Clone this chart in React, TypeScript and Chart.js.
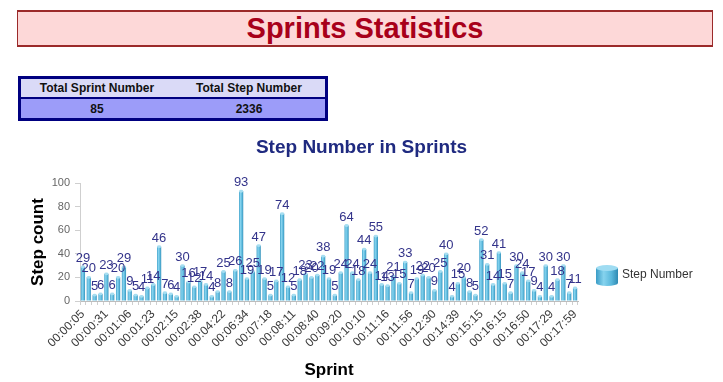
import React, { useEffect, useRef } from 'react';
import { Chart, registerables } from 'chart.js';

Chart.register(...registerables);

const FONT = '"Liberation Sans", Arial, Helvetica, sans-serif';

// Sprint start times shown on the axis (every 4th sprint)
const tickLabels = [
  '00:00:05', '00:00:31', '00:01:06', '00:01:23', '00:02:15', '00:02:38',
  '00:04:22', '00:06:34', '00:07:18', '00:08:11', '00:08:40', '00:09:20',
  '00:10:10', '00:11:16', '00:11:56', '00:12:30', '00:14:39', '00:15:15',
  '00:16:15', '00:16:50', '00:17:29', '00:17:59',
];

// Steps per sprint (85 sprints)
const stepCounts = [
  29, 20, 5, 6, 23, 6, 20, 29, 9, 5, 4, 11, 14, 46, 7, 6, 4, 30,
  16, 12, 17, 14, 4, 8, 25, 8, 26, 93,
  19, 25, 47, 19, 5, 17, 74,
  12, 5, 18, 23, 20, 22, 38, 19, 5, 24, 64,
  24, 18, 44, 24, 55, 14, 13, 21, 15, 33, 7,
  19, 22, 20, 9, 25, 40, 4, 15, 20, 8, 5, 52, 31, 14, 41, 15, 7,
  30, 24, 17, 9, 4, 30, 4, 18, 30, 7, 11,
];

const summaryHeaders = ['Total Sprint Number', 'Total Step Number'];
const summaryValues = ['85', '2336'];

const seriesName = 'Step Number';

const sprintLabels = stepCounts.map((_, i) => (i % 4 === 0 ? tickLabels[i / 4] ?? '' : ''));

const valueLabelsPlugin = {
  id: 'valueLabels',
  afterDatasetsDraw(chart: any) {
    const ctx = chart.ctx;
    const meta = chart.getDatasetMeta(0);
    const data = chart.data.datasets[0].data;
    ctx.save();
    meta.data.forEach((bar: any) => {
      const w = bar.width / 2;
      ctx.beginPath();
      ctx.ellipse(bar.x, bar.y, w, 1.4, 0, 0, Math.PI * 2);
      ctx.fillStyle = '#a6def1';
      ctx.fill();
    });
    ctx.font = `13px ${FONT}`;
    ctx.fillStyle = '#33338a';
    ctx.textAlign = 'center';
    ctx.textBaseline = 'bottom';
    meta.data.forEach((bar: any, i: number) => {
      ctx.fillText(String(data[i]), bar.x, bar.y - 2);
    });
    ctx.restore();
  },
};

const legendPlugin = {
  id: 'cylLegend',
  afterDraw(chart: any) {
    const ctx = chart.ctx;
    const area = chart.chartArea;
    const x = area.right + 18;
    const top = area.bottom - 36;
    const w = 22;
    const h = 18;
    ctx.save();
    const g = ctx.createLinearGradient(x, 0, x + w, 0);
    g.addColorStop(0, '#3a9cc6');
    g.addColorStop(0.35, '#86d3ee');
    g.addColorStop(0.7, '#5ab8dc');
    g.addColorStop(1, '#2f8ab3');
    ctx.fillStyle = g;
    ctx.beginPath();
    ctx.moveTo(x, top + 3);
    ctx.lineTo(x, top + h);
    ctx.ellipse(x + w / 2, top + h, w / 2, 3, 0, Math.PI, 0, true);
    ctx.lineTo(x + w, top + 3);
    ctx.closePath();
    ctx.fill();
    ctx.beginPath();
    ctx.ellipse(x + w / 2, top + 3, w / 2, 3, 0, 0, Math.PI * 2);
    ctx.fillStyle = '#9fdcf2';
    ctx.fill();
    ctx.font = `12px ${FONT}`;
    ctx.fillStyle = '#333';
    ctx.textAlign = 'left';
    ctx.textBaseline = 'middle';
    ctx.fillText(chart.data.datasets[0].label, x + w + 4, top + h / 2 + 1);
    ctx.restore();
  },
};

function barFill(c: any) {
  const chart = c.chart;
  const xs = chart.scales && chart.scales.x;
  if (!chart.chartArea || !xs || c.dataIndex === undefined) return '#4fb0d6';
  const x = xs.getPixelForValue(c.dataIndex);
  const g = chart.ctx.createLinearGradient(x - 2.3, 0, x + 2.3, 0);
  g.addColorStop(0, '#3a9cc6');
  g.addColorStop(0.35, '#86d3ee');
  g.addColorStop(0.7, '#5ab8dc');
  g.addColorStop(1, '#2f8ab3');
  return g;
}

function StepChart() {
  const ref = useRef<HTMLCanvasElement | null>(null);
  useEffect(() => {
    if (!ref.current) return;
    const chart = new Chart(ref.current, {
      type: 'bar',
      data: {
        labels: sprintLabels,
        datasets: [
          {
            label: seriesName,
            data: stepCounts,
            backgroundColor: barFill as any,
            borderWidth: 0,
            barPercentage: 0.76,
            categoryPercentage: 0.95,
          },
        ],
      },
      options: {
        animation: false,
        responsive: false,
        maintainAspectRatio: false,
        layout: { padding: 0 },
        plugins: {
          legend: { display: false },
          tooltip: { enabled: false },
          title: {
            display: true,
            text: 'Step Number in Sprints',
            color: '#1f2a80',
            font: { family: FONT, size: 19, weight: 'bold' },
            padding: { top: 6.6, bottom: 23.6 },
          },
        },
        scales: {
          x: {
            type: 'category',
            offset: true,
            grid: { display: true, drawOnChartArea: false, drawTicks: true, tickLength: 4, color: '#cfcfcf' },
            border: { display: true, color: '#bdbdbd' },
            ticks: {
              autoSkip: false,
              minRotation: 45,
              maxRotation: 45,
              padding: 2,
              color: '#3a3a3a',
              font: { family: FONT, size: 12 },
            },
            title: {
              display: true,
              text: 'Sprint',
              color: '#000',
              font: { family: FONT, size: 17, weight: 'bold' },
              padding: { top: 0, bottom: 1.8 },
            },
            afterFit: (s: any) => { s.height = 81; },
          },
          y: {
            min: 0,
            max: 100,
            ticks: { stepSize: 20, padding: 5, color: '#666', font: { family: FONT, size: 11 } },
            grid: { display: true, drawOnChartArea: false, drawTicks: true, tickLength: 5, color: '#cfcfcf' },
            border: { display: true, color: '#cfcfcf' },
            title: {
              display: true,
              text: 'Step count',
              color: '#000',
              font: { family: FONT, size: 17, weight: 'bold' },
              padding: { top: 27.8, bottom: 0 },
            },
            afterFit: (s: any) => { s.width = 80; },
          },
          yR: {
            position: 'right',
            display: true,
            ticks: { display: false },
            grid: { display: false },
            border: { display: false },
            afterFit: (s: any) => { s.width = 145; },
          },
        },
      } as any,
      plugins: [valueLabelsPlugin, legendPlugin],
    });
    return () => chart.destroy();
  }, []);
  return (
    <canvas
      ref={ref}
      width={723}
      height={252}
      style={{ position: 'absolute', left: 0, top: 130, width: 723, height: 252 }}
    />
  );
}

export default function App() {
  const cell: React.CSSProperties = {
    flex: 1,
    display: 'flex',
    alignItems: 'center',
    justifyContent: 'center',
    fontWeight: 'bold',
    fontSize: 12,
    color: '#111',
  };
  return (
    <div
      style={{
        position: 'absolute',
        left: 0,
        top: 0,
        width: 723,
        height: 382,
        background: '#fff',
        fontFamily: FONT,
        overflow: 'hidden',
      }}
    >
      <div
        style={{
          position: 'absolute',
          left: 17,
          top: 10,
          width: 696,
          height: 37,
          boxSizing: 'border-box',
          background: '#fdd8d8',
          border: '1px solid #9b2a2a',
          borderTopWidth: 2,
          borderBottomWidth: 2,
          display: 'flex',
          alignItems: 'center',
          justifyContent: 'center',
          color: '#a8001a',
          fontWeight: 'bold',
          fontSize: 29,
        }}
      >
        Sprints Statistics
      </div>
      <div
        style={{
          position: 'absolute',
          left: 18,
          top: 76,
          width: 310,
          height: 45,
          boxSizing: 'border-box',
          border: '3px solid #000080',
          display: 'flex',
          flexDirection: 'column',
        }}
      >
        <div style={{ height: 18, display: 'flex', background: '#dadaf7' }}>
          {summaryHeaders.map((h) => (
            <div key={h} style={cell}>{h}</div>
          ))}
        </div>
        <div style={{ height: 2, background: '#000080' }} />
        <div style={{ height: 19, display: 'flex', background: '#9c9cf9' }}>
          {summaryValues.map((v) => (
            <div key={v} style={cell}>{v}</div>
          ))}
        </div>
      </div>
      <StepChart />
    </div>
  );
}
